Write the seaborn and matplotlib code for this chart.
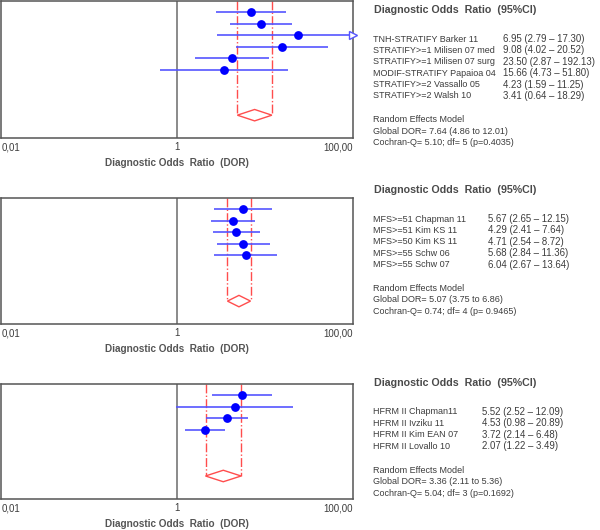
import matplotlib
matplotlib.use("Agg")
import matplotlib.pyplot as plt
import pandas as pd
import seaborn as sns
from matplotlib.patches import Polygon

# panel 1: STRATIFY
p1_labels = ["TNH-STRATIFY Barker 11", "STRATIFY>=1 Milisen 07 med", "STRATIFY>=1 Milisen 07 surg",
             "MODIF-STRATIFY Papaioa 04", "STRATIFY>=2 Vassallo 05", "STRATIFY>=2 Walsh 10"]
p1_dor = [6.95, 9.08, 23.50, 15.66, 4.23, 3.41]
p1_lo = [2.79, 4.02, 2.87, 4.73, 1.59, 0.64]
p1_hi = [17.30, 20.52, 192.13, 51.80, 11.25, 18.29]
p1_pool = [7.64, 4.86, 12.01]
p1_q = "Cochran-Q= 5.10; df= 5 (p=0.4035)"

# panel 2: MFS
p2_labels = ["MFS>=51 Chapman 11", "MFS>=51 Kim KS 11", "MFS>=50 Kim KS 11",
             "MFS>=55 Schw 06", "MFS>=55 Schw 07"]
p2_dor = [5.67, 4.29, 4.71, 5.68, 6.04]
p2_lo = [2.65, 2.41, 2.54, 2.84, 2.67]
p2_hi = [12.15, 7.64, 8.72, 11.36, 13.64]
p2_pool = [5.07, 3.75, 6.86]
p2_q = "Cochran-Q= 0.74; df= 4 (p= 0.9465)"

# panel 3: HFRM II
p3_labels = ["HFRM II Chapman11", "HFRM II Ivziku 11", "HFRM II Kim EAN 07", "HFRM II Lovallo 10"]
p3_dor = [5.52, 4.53, 3.72, 2.07]
p3_lo = [2.52, 0.98, 2.14, 1.22]
p3_hi = [12.09, 20.89, 6.48, 3.49]
p3_pool = [3.36, 2.11, 5.36]
p3_q = "Cochran-Q= 5.04; df= 3 (p=0.1692)"

sns.set_style("white")
plt.rcParams["font.family"] = ["Liberation Sans", "DejaVu Sans"]

BLUE = "#0000ff"
LINE = "#5555ff"
RED = "#ff4d4d"
TXT = "#3c3c3c"
FS = 6.5     # study names / summary lines
FSV = 6.9    # value column

fig = plt.figure(figsize=(6, 5.3), dpi=100)

# axes rectangles (figure fraction) and text anchors (pixels from top)
panels = [
    (p1_labels, p1_dor, p1_lo, p1_hi, p1_pool, p1_q, [0.002, 0.7396, 0.586, 0.2585], 10, 503),
    (p2_labels, p2_dor, p2_lo, p2_hi, p2_pool, p2_q, [0.002, 0.3887, 0.586, 0.2377], 190, 488),
    (p3_labels, p3_dor, p3_lo, p3_hi, p3_pool, p3_q, [0.002, 0.0585, 0.586, 0.2170], 383, 482),
]


def fy(py):
    return 1 - py / 530


for labels, dor, lo, hi, pool, qtxt, rect, ty, vx in panels:
    n = len(labels)
    df = pd.DataFrame({"study": labels, "dor": dor, "lo": lo, "hi": hi, "row": range(1, n + 1)})
    ax = fig.add_axes(rect)
    ax.set_xscale("log")
    ax.set_xlim(0.01, 100)
    ax.set_ylim(n + 6, 0)
    diamond_y = n + 4

    ax.axvline(1, color="#8a8a8a", lw=1.4, zorder=1)

    # CI whiskers
    for _, r in df.iterrows():
        ax.hlines(r["row"], r["lo"], min(r["hi"], 100), color=LINE, lw=1.2, zorder=2)
        if r["hi"] > 100:
            ax.plot([100], [r["row"]], marker=">", ms=6, mfc="white", mec=LINE, mew=1,
                    clip_on=False, zorder=4)

    sns.scatterplot(data=df, x="dor", y="row", ax=ax, color=BLUE, s=40,
                    edgecolor=BLUE, linewidth=0, zorder=3, legend=False)

    # pooled estimate
    est, plo, phi = pool
    ax.vlines([plo, phi], 0, diamond_y, colors=RED, linestyles="-.", lw=1, zorder=1)
    ax.add_patch(Polygon([(plo, diamond_y), (est, diamond_y - 0.5), (phi, diamond_y),
                          (est, diamond_y + 0.5)], closed=True, fill=False, ec=RED, lw=1))

    ax.set_ylabel("")
    ax.set_yticks([])
    ax.set_xticks([0.01, 1, 100])
    ax.set_xticks([], minor=True)
    ax.set_xticklabels(["0,01", "1", "100,00"], fontsize=7, color=TXT)
    tl = ax.get_xticklabels()
    tl[0].set_ha("left")
    tl[2].set_ha("right")
    ax.tick_params(axis="x", length=0, pad=3)
    ax.set_xlabel("Diagnostic Odds  Ratio  (DOR)", fontsize=7.2, fontweight="bold",
                  color="#555555", labelpad=4)
    for s in ax.spines.values():
        s.set_color("#555555")
        s.set_linewidth(1.1)

    # right-hand text block
    fig.text(374 / 600, fy(ty), "Diagnostic Odds  Ratio  (95%CI)", fontsize=7.7,
             fontweight="bold", color="#4a4a4a", va="center")
    y0 = ty + 29
    for i, r in df.iterrows():
        yy = fy(y0 + i * 11.4)
        fig.text(373 / 600, yy, r["study"], fontsize=FS, color=TXT, va="center")
        fig.text(vx / 600, yy, f"{r['dor']:.2f} ({r['lo']:.2f} \u2013 {r['hi']:.2f})",
                 fontsize=FSV, color=TXT, va="center")
    yb = y0 + (n - 1) * 11.4 + 24
    fig.text(373 / 600, fy(yb), "Random Effects Model", fontsize=FS, color=TXT, va="center")
    fig.text(373 / 600, fy(yb + 11.4), f"Global DOR= {est:.2f} ({plo:.2f} to {phi:.2f})",
             fontsize=FS, color=TXT, va="center")
    fig.text(373 / 600, fy(yb + 22.8), qtxt, fontsize=FS, color=TXT, va="center")

fig.savefig("out.png", dpi=100)
